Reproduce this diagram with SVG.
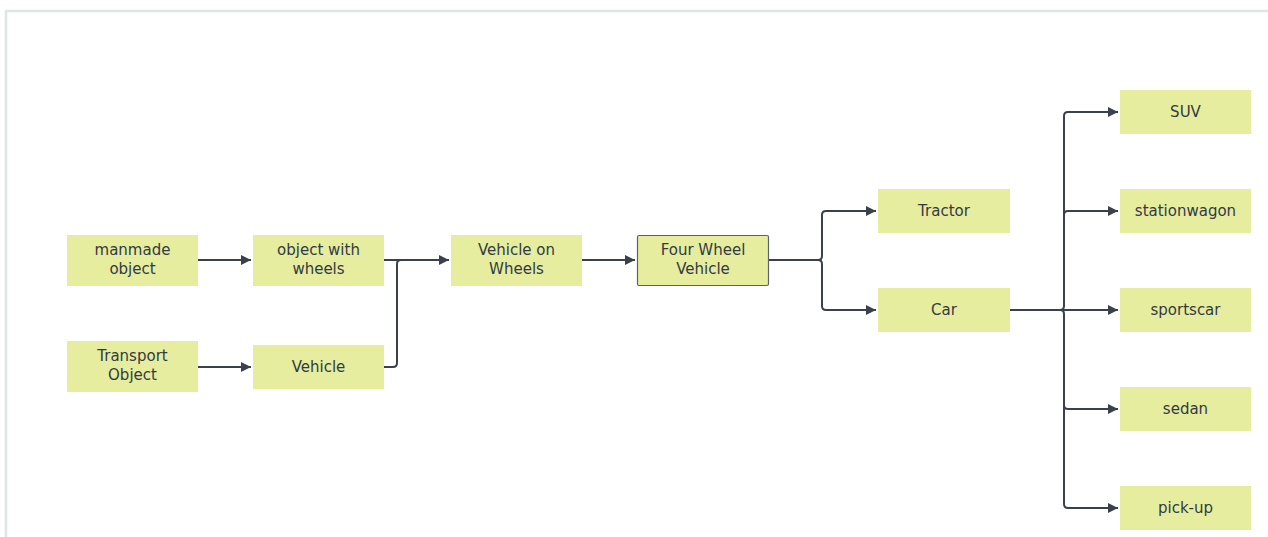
<svg xmlns="http://www.w3.org/2000/svg" width="1268" height="537" viewBox="0 0 1268 537">
<defs>
<style>
.n{fill:#e6ed9f;}
.b{stroke:#5b636a;stroke-width:1.2;}
.t{font-family:"DejaVu Sans",Verdana,sans-serif;font-size:15px;fill:#323a44;text-anchor:middle;}
.c{fill:none;stroke:#3a414a;stroke-width:2;marker-end:url(#ah);}
.c2{fill:none;stroke:#3a414a;stroke-width:2;}
</style>
<marker id="ah" markerUnits="userSpaceOnUse" markerWidth="11" markerHeight="12" refX="10" refY="6" orient="auto">
<path d="M0,1 L10,6 L0,11 Z" fill="#3a414a"/>
</marker>
</defs>
<rect width="1268" height="537" fill="#ffffff"/>
<path d="M6,537 V11 H1268" fill="none" stroke="#dfe5e5" stroke-width="2.5"/>

<g id="connectors">
<path class="c" d="M198,260 H251"/>
<path class="c" d="M198,367 H251"/>
<path class="c" d="M384,260 H449"/>
<path class="c2" d="M384,367 H393 Q397,367 397,363 V264 Q397,260 401,260"/>
<path class="c" d="M582,260 H635"/>
<path class="c" d="M769,260 H818 Q822,260 822,256 V215 Q822,211 826,211 H876"/>
<path class="c" d="M769,260 H818 Q822,260 822,264 V306 Q822,310 826,310 H876"/>
<path class="c" d="M1010,310 H1060 Q1064,310 1064,306 V116 Q1064,112 1068,112 H1118"/>
<path class="c" d="M1064,215 Q1064,211 1068,211 H1118"/>
<path class="c" d="M1010,310 H1118"/>
<path class="c" d="M1064,405 Q1064,409 1068,409 H1118"/>
<path class="c" d="M1010,310 H1060 Q1064,310 1064,314 V504 Q1064,508 1068,508 H1118"/>
</g>

<g id="manmade-object"><rect class="n" x="67" y="235" width="131" height="51"/><text class="t" x="132.5" y="255">manmade</text><text class="t" x="132.5" y="274">object</text></g>
<g id="transport-object"><rect class="n" x="67" y="341" width="131" height="51"/><text class="t" x="132.5" y="361">Transport</text><text class="t" x="132.5" y="380">Object</text></g>
<g id="object-with-wheels"><rect class="n" x="253" y="235" width="131" height="51"/><text class="t" x="318.5" y="255">object with</text><text class="t" x="318.5" y="274">wheels</text></g>
<g id="vehicle"><rect class="n" x="253" y="345" width="131" height="44"/><text class="t" x="318.5" y="372">Vehicle</text></g>
<g id="vehicle-on-wheels"><rect class="n" x="451" y="235" width="131" height="51"/><text class="t" x="516.5" y="255">Vehicle on</text><text class="t" x="516.5" y="274">Wheels</text></g>
<g id="four-wheel-vehicle"><rect class="n b" x="637.5" y="235.5" width="131" height="50" rx="1.5"/><text class="t" x="703" y="255">Four Wheel</text><text class="t" x="703" y="274">Vehicle</text></g>
<g id="tractor"><rect class="n" x="878" y="189" width="132" height="44"/><text class="t" x="944" y="216">Tractor</text></g>
<g id="car"><rect class="n" x="878" y="288" width="132" height="44"/><text class="t" x="944" y="315">Car</text></g>
<g id="suv"><rect class="n" x="1120" y="90" width="131" height="44"/><text class="t" x="1185.5" y="117">SUV</text></g>
<g id="stationwagon"><rect class="n" x="1120" y="189" width="131" height="44"/><text class="t" x="1185.5" y="216">stationwagon</text></g>
<g id="sportscar"><rect class="n" x="1120" y="288" width="131" height="44"/><text class="t" x="1185.5" y="315">sportscar</text></g>
<g id="sedan"><rect class="n" x="1120" y="387" width="131" height="44"/><text class="t" x="1185.5" y="414">sedan</text></g>
<g id="pick-up"><rect class="n" x="1120" y="486" width="131" height="44"/><text class="t" x="1185.5" y="513">pick-up</text></g>
</svg>
